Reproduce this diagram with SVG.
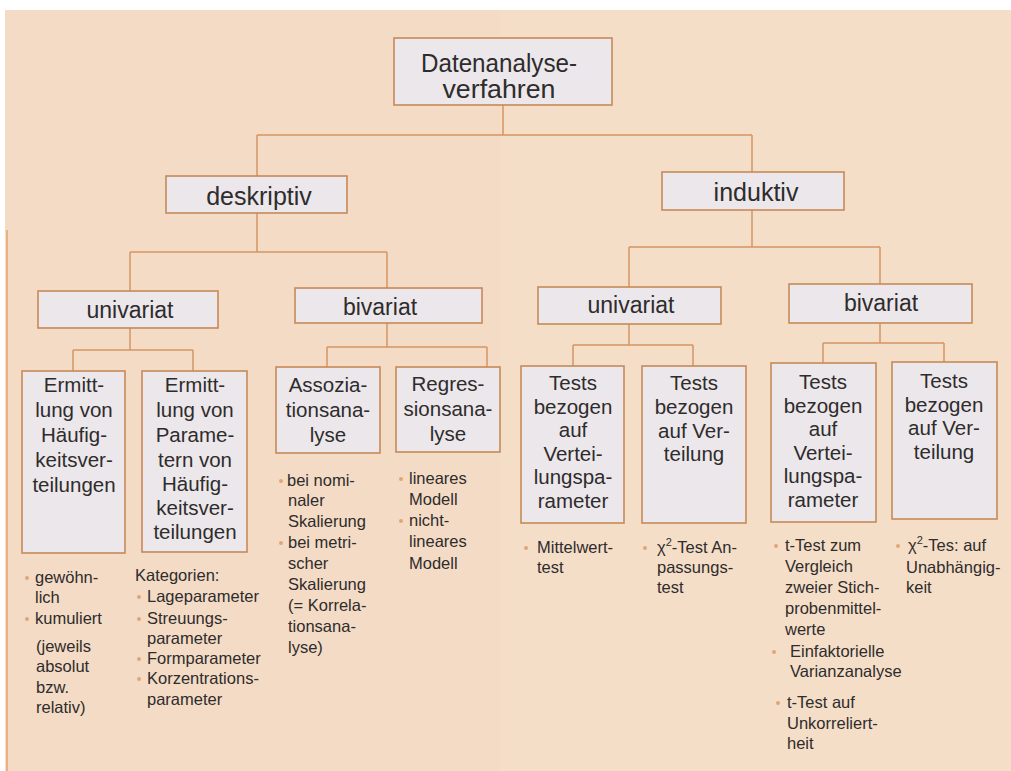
<svg xmlns="http://www.w3.org/2000/svg" width="1011" height="771" viewBox="0 0 1011 771">
<style>
.box{fill:#ECE7EA;stroke:#C78A57;stroke-width:1.6}
.con{fill:none;stroke:#D39761;stroke-width:1.5}
.t{font-family:"Liberation Sans",Arial,sans-serif;fill:#2E2C2C;text-anchor:middle}
.big{font-size:25px}
.mid{font-size:23px}
.bx{font-size:20.5px}
.sm{font-family:"Liberation Sans",Arial,sans-serif;fill:#2E2C2C;font-size:16.5px}
.bul{fill:#E2A574}
</style>
<rect x="0" y="0" width="1011" height="771" fill="#FFFFFF"/>
<rect x="5" y="10" width="1006" height="761" fill="#F4DBC5"/>
<rect x="500" y="10" width="511" height="761" fill="#F5DFC9" opacity="0.6"/>
<line x1="7" y1="230" x2="7" y2="771" stroke="#E3A66F" stroke-width="1.5"/>

<g id="connectors">
<path class="con" d="M503,105 V135 M257,135 H752 M257,135 V176 M752,135 V172"/>
<path class="con" d="M257,213 V252 M130,252 H387 M130,252 V291 M387,252 V288"/>
<path class="con" d="M752,210 V247 M629,247 H880 M629,247 V287 M880,247 V284"/>
<path class="con" d="M130,328 V350 M73,350 H193 M73,350 V371 M193,350 V371"/>
<path class="con" d="M387,323 V347 M327,347 H487 M327,347 V367 M487,347 V367"/>
<path class="con" d="M629,324 V345 M573,345 H693 M573,345 V366 M693,345 V366"/>
<path class="con" d="M880,323 V343 M823,343 H944 M823,343 V363 M944,343 V362"/>
</g>

<g id="root">
<rect class="box" x="394" y="38" width="218" height="67"/>
<text class="t big" x="499" y="72" textLength="156" lengthAdjust="spacingAndGlyphs">Datenanalyse-</text>
<text class="t big" x="499" y="98" textLength="113" lengthAdjust="spacingAndGlyphs">verfahren</text>
</g>

<g id="deskriptiv">
<rect class="box" x="166" y="176" width="181" height="37"/>
<text class="t big" x="259" y="205">deskriptiv</text>
</g>
<g id="induktiv">
<rect class="box" x="662" y="172" width="182" height="38"/>
<text class="t big" x="756" y="201">induktiv</text>
</g>

<g id="univariat-desk">
<rect class="box" x="38" y="291" width="180" height="37"/>
<text class="t mid" x="130" y="318">univariat</text>
</g>
<g id="bivariat-desk">
<rect class="box" x="295" y="288" width="187" height="35"/>
<text class="t mid" x="380" y="315">bivariat</text>
</g>
<g id="univariat-ind">
<rect class="box" x="538" y="287" width="183" height="37"/>
<text class="t mid" x="631" y="313">univariat</text>
</g>
<g id="bivariat-ind">
<rect class="box" x="789" y="284" width="183" height="39"/>
<text class="t mid" x="881" y="311">bivariat</text>
</g>

<g id="haeufigkeit">
<rect class="box" x="22" y="371" width="103" height="182"/>
<text class="t bx" x="74" y="392">Ermitt-</text>
<text class="t bx" x="74" y="417">lung von</text>
<text class="t bx" x="74" y="442">Häufig-</text>
<text class="t bx" x="74" y="467">keitsver-</text>
<text class="t bx" x="74" y="492">teilungen</text>
</g>
<g id="parameter">
<rect class="box" x="142" y="371" width="105" height="181"/>
<text class="t bx" x="195" y="392">Ermitt-</text>
<text class="t bx" x="195" y="417">lung von</text>
<text class="t bx" x="195" y="442">Parame-</text>
<text class="t bx" x="195" y="467">tern von</text>
<text class="t bx" x="195" y="491">Häufig-</text>
<text class="t bx" x="195" y="515">keitsver-</text>
<text class="t bx" x="195" y="539">teilungen</text>
</g>
<g id="assoziation">
<rect class="box" x="276" y="367" width="104" height="86"/>
<text class="t bx" x="328" y="392">Assozia-</text>
<text class="t bx" x="328" y="417">tionsana-</text>
<text class="t bx" x="328" y="442">lyse</text>
</g>
<g id="regression">
<rect class="box" x="396" y="367" width="104" height="85"/>
<text class="t bx" x="448" y="391">Regres-</text>
<text class="t bx" x="448" y="416">sionsana-</text>
<text class="t bx" x="448" y="441">lyse</text>
</g>
<g id="tests-uni-param">
<rect class="box" x="521" y="366" width="103" height="157"/>
<text class="t bx" x="573" y="390">Tests</text>
<text class="t bx" x="573" y="413.5">bezogen</text>
<text class="t bx" x="573" y="437">auf</text>
<text class="t bx" x="573" y="460.5">Vertei-</text>
<text class="t bx" x="573" y="484">lungspa-</text>
<text class="t bx" x="573" y="507.5">rameter</text>
</g>
<g id="tests-uni-vert">
<rect class="box" x="642" y="366" width="104" height="157"/>
<text class="t bx" x="694" y="390">Tests</text>
<text class="t bx" x="694" y="414">bezogen</text>
<text class="t bx" x="694" y="438">auf Ver-</text>
<text class="t bx" x="694" y="461">teilung</text>
</g>
<g id="tests-bi-param">
<rect class="box" x="771" y="363" width="105" height="159"/>
<text class="t bx" x="823" y="389">Tests</text>
<text class="t bx" x="823" y="412.5">bezogen</text>
<text class="t bx" x="823" y="436">auf</text>
<text class="t bx" x="823" y="459.5">Vertei-</text>
<text class="t bx" x="823" y="483">lungspa-</text>
<text class="t bx" x="823" y="506.5">rameter</text>
</g>
<g id="tests-bi-vert">
<rect class="box" x="892" y="362" width="105" height="157"/>
<text class="t bx" x="944" y="388">Tests</text>
<text class="t bx" x="944" y="412">bezogen</text>
<text class="t bx" x="944" y="435">auf Ver-</text>
<text class="t bx" x="944" y="459">teilung</text>
</g>

<g id="notes-haeufigkeit">
<circle class="bul" cx="27" cy="578" r="2"/>
<circle class="bul" cx="27" cy="619" r="2"/>
<text class="sm" x="35" y="583">gewöhn-</text>
<text class="sm" x="35" y="603">lich</text>
<text class="sm" x="35" y="624">kumuliert</text>
<text class="sm" x="36" y="652">(jeweils</text>
<text class="sm" x="36" y="672">absolut</text>
<text class="sm" x="36" y="693">bzw.</text>
<text class="sm" x="36" y="713">relativ)</text>
</g>
<g id="notes-parameter">
<text class="sm" x="135" y="581">Kategorien:</text>
<circle class="bul" cx="139" cy="597" r="2"/>
<circle class="bul" cx="139" cy="619" r="2"/>
<circle class="bul" cx="139" cy="659" r="2"/>
<circle class="bul" cx="139" cy="679" r="2"/>
<text class="sm" x="147" y="602">Lageparameter</text>
<text class="sm" x="147" y="624">Streuungs-</text>
<text class="sm" x="147" y="644">parameter</text>
<text class="sm" x="147" y="664">Formparameter</text>
<text class="sm" x="147" y="684">Korzentrations-</text>
<text class="sm" x="147" y="705">parameter</text>
</g>
<g id="notes-assoziation">
<circle class="bul" cx="281" cy="481" r="2"/>
<circle class="bul" cx="281" cy="543" r="2"/>
<text class="sm" x="287" y="486">bei nomi-</text>
<text class="sm" x="288" y="506">naler</text>
<text class="sm" x="288" y="527">Skalierung</text>
<text class="sm" x="288" y="548">bei metri-</text>
<text class="sm" x="288" y="569">scher</text>
<text class="sm" x="288" y="590">Skalierung</text>
<text class="sm" x="288" y="611">(= Korrela-</text>
<text class="sm" x="288" y="632">tionsana-</text>
<text class="sm" x="288" y="653">lyse)</text>
</g>
<g id="notes-regression">
<circle class="bul" cx="401" cy="479" r="2"/>
<circle class="bul" cx="401" cy="521" r="2"/>
<text class="sm" x="409" y="484">lineares</text>
<text class="sm" x="409" y="505">Modell</text>
<text class="sm" x="409" y="526">nicht-</text>
<text class="sm" x="409" y="547">lineares</text>
<text class="sm" x="409" y="569">Modell</text>
</g>
<g id="notes-uni-param">
<circle class="bul" cx="526" cy="548" r="2"/>
<text class="sm" x="537" y="553">Mittelwert-</text>
<text class="sm" x="537" y="573">test</text>
</g>
<g id="notes-uni-vert">
<circle class="bul" cx="645" cy="548" r="2"/>
<text class="sm" x="657" y="553">χ<tspan font-size="11" dy="-7">2</tspan><tspan dy="7">-Test An-</tspan></text>
<text class="sm" x="657" y="573">passungs-</text>
<text class="sm" x="657" y="593">test</text>
</g>
<g id="notes-bi-param">
<circle class="bul" cx="776" cy="546" r="2"/>
<circle class="bul" cx="774" cy="652" r="2"/>
<circle class="bul" cx="778" cy="703" r="2"/>
<text class="sm" x="785" y="551">t-Test zum</text>
<text class="sm" x="785" y="572">Vergleich</text>
<text class="sm" x="785" y="593">zweier Stich-</text>
<text class="sm" x="785" y="614">probenmittel-</text>
<text class="sm" x="785" y="635">werte</text>
<text class="sm" x="790" y="657">Einfaktorielle</text>
<text class="sm" x="790" y="677">Varianzanalyse</text>
<text class="sm" x="787" y="708">t-Test auf</text>
<text class="sm" x="787" y="729">Unkorreliert-</text>
<text class="sm" x="787" y="749">heit</text>
</g>
<g id="notes-bi-vert">
<circle class="bul" cx="898" cy="546" r="2"/>
<text class="sm" x="908" y="551">χ<tspan font-size="11" dy="-7">2</tspan><tspan dy="7">-Tes: auf</tspan></text>
<text class="sm" x="906" y="573">Unabhängig-</text>
<text class="sm" x="906" y="593">keit</text>
</g>
</svg>
